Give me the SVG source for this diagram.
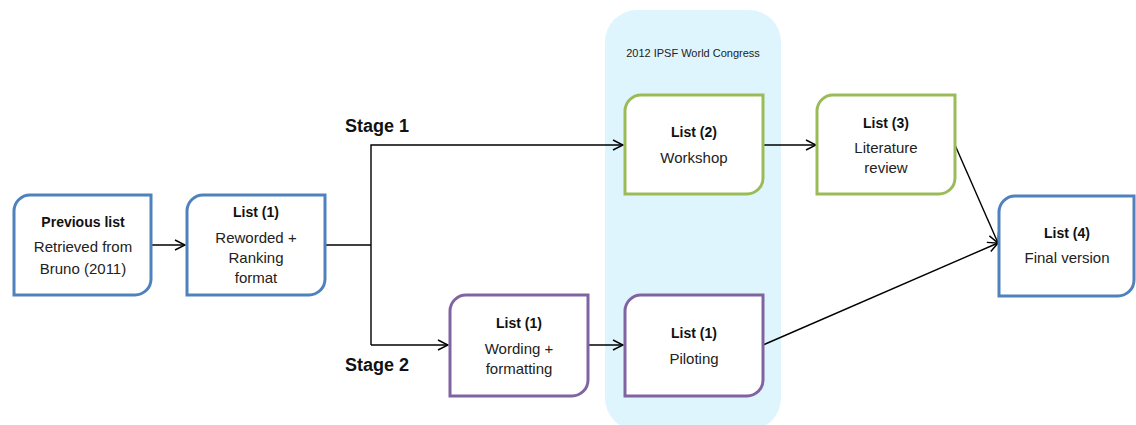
<svg xmlns="http://www.w3.org/2000/svg" width="1136" height="425" viewBox="0 0 1136 425">
  <defs>
    <marker id="arrow" viewBox="0 0 12 12" refX="11" refY="6" markerWidth="12" markerHeight="12" markerUnits="userSpaceOnUse" orient="auto">
      <path d="M1,1 L11,6 L1,11" fill="none" stroke="#000" stroke-width="1.4"/>
    </marker>
  </defs>
  <style>
    .box { fill: #fff; stroke-width: 3; }
    .blue { stroke: #4F81BD; }
    .green { stroke: #9BBB59; }
    .purple { stroke: #8064A2; }
    .title { font-family: "Liberation Sans", Arial, sans-serif; font-size: 14px; font-weight: bold; fill: #111; text-anchor: middle; }
    .body { font-family: "Liberation Sans", Arial, sans-serif; font-size: 15px; fill: #222; text-anchor: middle; }
    .stage { font-family: "Liberation Sans", Arial, sans-serif; font-size: 18px; font-weight: bold; fill: #111; }
    .note { font-family: "Liberation Sans", Arial, sans-serif; font-size: 11px; fill: #222; text-anchor: middle; }
    .conn { fill: none; stroke: #000; stroke-width: 1.4; }
  </style>

  <rect width="1136" height="425" fill="#fff"/>

  <!-- congress band -->
  <g id="congress">
    <rect x="605" y="10" width="176" height="420" rx="32" ry="32" fill="#DEF5FD"/>
    <text class="note" x="693" y="57">2012 IPSF World Congress</text>
  </g>

  <!-- connectors -->
  <g id="connectors">
    <line class="conn" x1="152" y1="245" x2="185" y2="245" marker-end="url(#arrow)"/>
    <polyline class="conn" points="325,245 371,245"/>
    <polyline class="conn" points="371,345 371,145 623,145" marker-end="url(#arrow)"/>
    <line class="conn" x1="371" y1="345" x2="448" y2="345" marker-end="url(#arrow)"/>
    <line class="conn" x1="588" y1="345" x2="623" y2="345" marker-end="url(#arrow)"/>
    <line class="conn" x1="763" y1="145" x2="816" y2="145" marker-end="url(#arrow)"/>
    <line class="conn" x1="955" y1="145" x2="998" y2="243" marker-end="url(#arrow)"/>
    <line class="conn" x1="763" y1="345" x2="998" y2="243" marker-end="url(#arrow)"/>
  </g>

  <g id="stage1"><text class="stage" x="345" y="132">Stage 1</text></g>
  <g id="stage2"><text class="stage" x="345" y="371">Stage 2</text></g>

  <!-- nodes: rounded top-left and bottom-right corners -->
  <g id="previous-list">
    <path class="box blue" d="M30,195 H151 V279 A16,16 0 0 1 135,295 H14 V211 A16,16 0 0 1 30,195 Z"/>
    <text class="title" x="83" y="227">Previous list</text>
    <text class="body" x="83" y="252">Retrieved from</text>
    <text class="body" x="83" y="274">Bruno (2011)</text>
  </g>

  <g id="list1-reworded">
    <path class="box blue" d="M203,195 H325 V279 A16,16 0 0 1 309,295 H187 V211 A16,16 0 0 1 203,195 Z"/>
    <text class="title" x="256" y="217">List (1)</text>
    <text class="body" x="256" y="243">Reworded +</text>
    <text class="body" x="256" y="263">Ranking</text>
    <text class="body" x="256" y="283">format</text>
  </g>

  <g id="list2-workshop">
    <path class="box green" d="M641,95 H763 V178 A16,16 0 0 1 747,194 H625 V111 A16,16 0 0 1 641,95 Z"/>
    <text class="title" x="694" y="137">List (2)</text>
    <text class="body" x="694" y="163">Workshop</text>
  </g>

  <g id="list3-literature">
    <path class="box green" d="M833,95 H955 V178 A16,16 0 0 1 939,194 H817 V111 A16,16 0 0 1 833,95 Z"/>
    <text class="title" x="886" y="128">List (3)</text>
    <text class="body" x="886" y="153">Literature</text>
    <text class="body" x="886" y="173">review</text>
  </g>

  <g id="list4-final">
    <path class="box blue" d="M1015,196 H1134 V280 A16,16 0 0 1 1118,296 H999 V212 A16,16 0 0 1 1015,196 Z"/>
    <text class="title" x="1067" y="238">List (4)</text>
    <text class="body" x="1067" y="263">Final version</text>
  </g>

  <g id="list1-wording">
    <path class="box purple" d="M466,295 H588 V380 A16,16 0 0 1 572,396 H450 V311 A16,16 0 0 1 466,295 Z"/>
    <text class="title" x="519" y="328">List (1)</text>
    <text class="body" x="519" y="354">Wording +</text>
    <text class="body" x="519" y="374">formatting</text>
  </g>

  <g id="list1-piloting">
    <path class="box purple" d="M641,295 H763 V380 A16,16 0 0 1 747,396 H625 V311 A16,16 0 0 1 641,295 Z"/>
    <text class="title" x="694" y="338">List (1)</text>
    <text class="body" x="694" y="364">Piloting</text>
  </g>
</svg>
